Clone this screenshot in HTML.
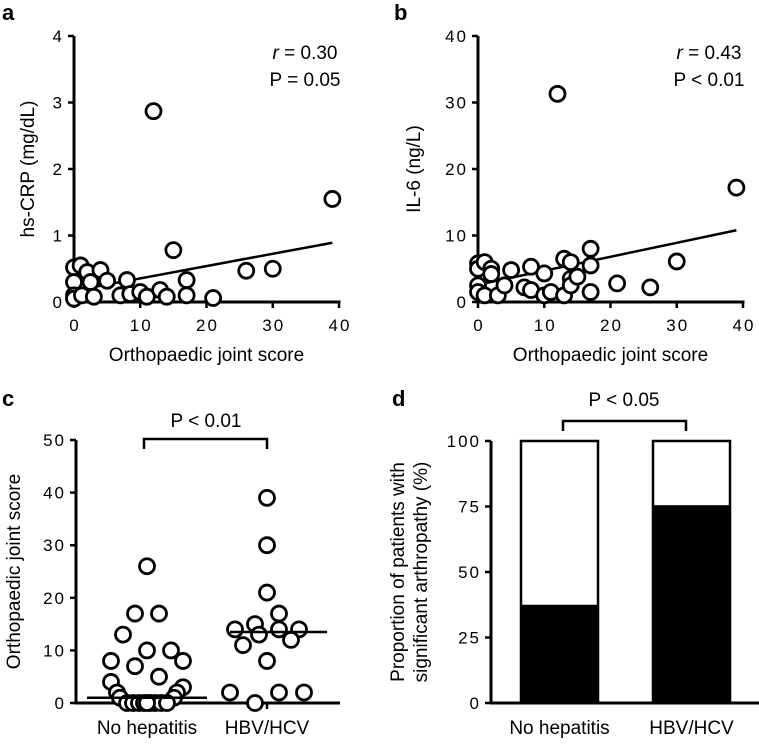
<!DOCTYPE html>
<html><head><meta charset="utf-8"><style>
body{margin:0;background:#fff}
svg{display:block}
text{font-family:"Liberation Sans",sans-serif;fill:#000}
.tk{font-size:17px;letter-spacing:2px}
.lb{font-size:19px}
.pl{font-size:22px;font-weight:bold}
</style></head><body>
<svg id="s" width="759" height="745" viewBox="0 0 759 745"></svg>
<script>
// Panel a data
const aX=[0,0,0,0,1,1.2,2,2.5,4,5,3,7,8,8.5,10,11,12,13,14,15,17,17,21,26,30,39];
const aY=[0.52,0.3,0.1,0.05,0.55,0.1,0.45,0.3,0.48,0.32,0.08,0.1,0.33,0.12,0.15,0.08,2.87,0.18,0.08,0.78,0.33,0.1,0.06,0.47,0.5,1.55];
const aFit=[0.17,0.0185];
const aYTicks=[0,1,2,3,4];
const xTicks=[0,10,20,30,40];
// Panel b data
const bX=[0,0,0,0,1,1,2,2,3,4,5,7,8,8,10,10,11,12,13,13,14,14,14,15,17,17,17,21,26,30,39];
const bY=[5.8,5,2.5,1.5,6,1,5,4.2,1,2.5,4.8,2.2,5.3,1.8,4.3,1,1.5,31.3,6.5,1,6,3.5,2.5,3.8,8,5.5,1.5,2.8,2.2,6.1,17.2];
const bFit=[2.6,0.21];
const bYTicks=[0,10,20,30,40];
// Panel c data
const cNoHep=[26,17,17,13,10,10,8,8,7,5,4,3,2,2,1,1,0,0,0,0,0,0,0,0,0];
const cNoHepJit=[0,-12,12,-24,0,24,-36,36,-12,12,-36,36,-30,30,-27,27,-20,-14,-8,-3,3,8,14,20,0];
const cHbv=[39,30,21,17,15,14,14,14,13,11,12,8,2,2,2,0];
const cHbvJit=[0,0,0,12,-12,-32,12,32,-8,-24,24,0,-37,12,37,-12];
const cMedian=[1,13.5];
const cYTicks=[0,10,20,30,40,50];
// Panel d data
const dCats=["No hepatitis","HBV/HCV"];
const dBlack=[37.5,75.5];
const dYTicks=[0,25,50,75,100];

const S=document.getElementById('s');
const NS='http://www.w3.org/2000/svg';
function mk(tag,at,parent){const e=document.createElementNS(NS,tag);for(const k in at)e.setAttribute(k,at[k]);(parent||S).appendChild(e);return e;}
function tx(str,x,y,cls,anchor,rot){const e=mk('text',{x:x,y:y,'class':cls,'text-anchor':anchor||'middle'});if(rot)e.setAttribute('transform','rotate(-90 '+x+' '+y+')');e.textContent=str;return e;}
function ln(x1,y1,x2,y2,w){return mk('line',{x1:x1,y1:y1,x2:x2,y2:y2,stroke:'#000','stroke-width':w||3});}
function circ(cx,cy){return mk('circle',{cx:cx,cy:cy,r:7.5,fill:'#fff',stroke:'#000','stroke-width':2.8});}

function scatter(p,X0,X1,Y0,Y1,ymax,xs,ys,fit,yt,ylab,ylx,r,pstr){
  const sx=v=>X0+(X1-X0)*v/40, sy=v=>Y0-(Y0-Y1)*v/ymax;
  let e=ln(X0,Y1,X0,Y0+1.5);
  e=ln(X0-1.5,Y0,X1+1.5,Y0);
  yt.forEach(v=>{ln(X0-6,sy(v),X0,sy(v),2.5);e=tx(String(v),X0-10,sy(v)+6,'tk','end');});
  xTicks.forEach(v=>{ln(sx(v),Y0,sx(v),Y0+6,2.5);e=tx(String(v),sx(v)+1,Y0+29,'tk');});
  e=tx('Orthopaedic joint score',(X0+X1)/2,Y0+59,'lb');
  e=tx(ylab,ylx,(Y0+Y1)/2,'lb','middle',true);
  e=ln(sx(0),sy(fit[0]),sx(39),sy(fit[0]+fit[1]*39),2.5);
  xs.forEach((v,i)=>{e=circ(sx(v),sy(ys[i]));});
  const t=mk('text',{x:X1-34,y:Y1+23,'class':'lb','text-anchor':'middle'});
  const ti=mk('tspan',{'font-style':'italic'},t);ti.textContent='r';
  const t2=mk('tspan',{},t);t2.textContent=' = '+r;
  
  e=tx(pstr,X1-34,Y1+50,'lb');
}
let e=tx('a',2,20,'pl','start');
scatter('panel-a',74,339,302,36,4,aX,aY,aFit,aYTicks,'hs-CRP (mg/dL)',34,'0.30','P = 0.05');
e=tx('b',394,20,'pl','start');
scatter('panel-b',478,743,302,36,40,bX,bY,bFit,bYTicks,'IL-6 (ng/L)',420,'0.43','P < 0.01');

// Panel c
(function(){
  const X0=76,X1=340,Y0=703,Y1=440,cx=[147,267];
  const sy=v=>Y0-(Y0-Y1)*v/50;
  e=tx('c',2,406,'pl','start');
  e=ln(X0,Y1,X0,Y0+1.5);
  e=ln(X0-1.5,Y0,X1,Y0);
  cYTicks.forEach(v=>{ln(X0-6,sy(v),X0,sy(v),2.5);e=tx(String(v),X0-10,sy(v)+6,'tk','end');});
  cx.forEach(x=>ln(x,Y0,x,Y0+6,2.5));
  e=tx('No hepatitis',cx[0],734,'lb');
  e=tx('HBV/HCV',cx[1],734,'lb');
  e=tx('Orthopaedic joint score',20,(Y0+Y1)/2,'lb','middle',true);
  cNoHep.forEach((v,i)=>{e=circ(cx[0]+cNoHepJit[i],sy(v));});
  cHbv.forEach((v,i)=>{e=circ(cx[1]+cHbvJit[i],sy(v));});
  e=ln(cx[0]-60,sy(cMedian[0]),cx[0]+60,sy(cMedian[0]),2.5);
  e=ln(cx[1]-37,sy(cMedian[1]),cx[1]+60,sy(cMedian[1]),2.5);
  e=mk('path',{d:'M144 449 V439 H267 V449',fill:'none',stroke:'#000','stroke-width':2.5});
  e=tx('P < 0.01',206,427,'lb');
})();

// Panel d
(function(){
  const X0=491,X1=759,Y0=703,Y1=441,bx=[521,653],bw=77;
  const sy=v=>Y0-(Y0-Y1)*v/100;
  e=tx('d',392,406,'pl','start');
  dCats.forEach((c,i)=>{
    e=mk('rect',{x:bx[i],y:sy(100),width:bw,height:sy(0)-sy(100),fill:'#fff',stroke:'#000','stroke-width':2.5});
    e=mk('rect',{x:bx[i],y:sy(dBlack[i]),width:bw,height:sy(0)-sy(dBlack[i]),fill:'#000'});
    e=tx(c,bx[i]+bw/2,734,'lb');
  });
  e=ln(X0,Y1,X0,Y0+1.5);
  e=ln(X0-1.5,Y0,X1,Y0);
  dYTicks.forEach(v=>{ln(X0-6,sy(v),X0,sy(v),2.5);e=tx(String(v),X0-10,sy(v)+6,'tk','end');});
  e=tx('Proportion of patients with',404,(Y0+Y1)/2,'lb','middle',true);
  e=tx('significant arthropathy (%)',427,(Y0+Y1)/2,'lb','middle',true);
  e=mk('path',{d:'M563 431 V421 H686 V431',fill:'none',stroke:'#000','stroke-width':2.5});
  e=tx('P < 0.05',624,406,'lb');
})();
</script>
</body></html>
